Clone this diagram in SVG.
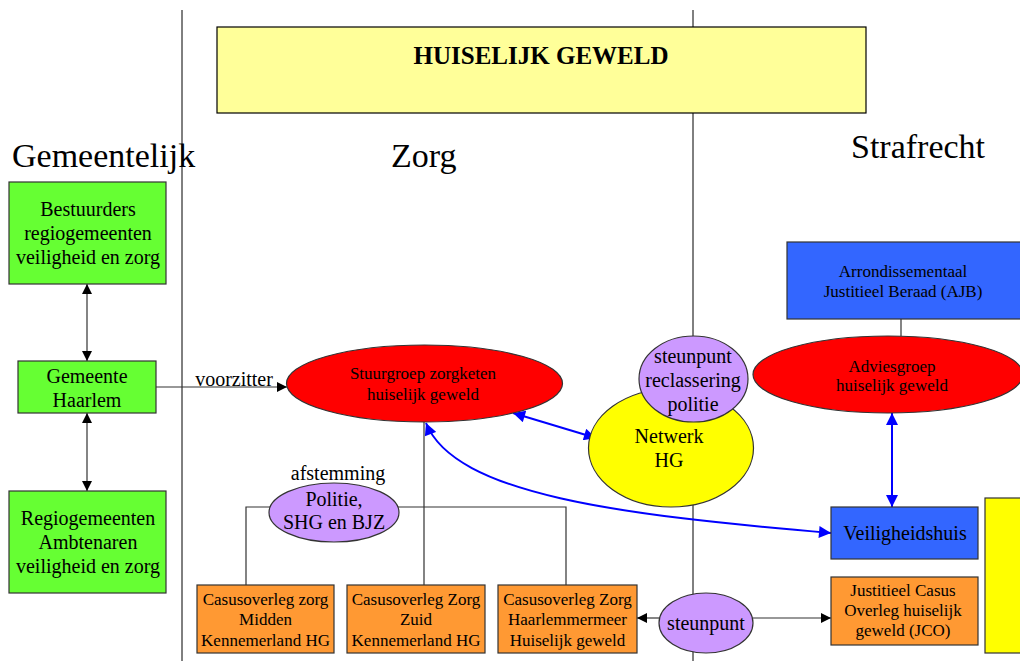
<svg xmlns="http://www.w3.org/2000/svg" width="1020" height="661" viewBox="0 0 1020 661">
<style>
text{font-family:"Liberation Serif","Times New Roman",serif;fill:#000;text-anchor:middle}
.hdr{font-size:34px;text-anchor:start}
.t20{font-size:20px}
.t17{font-size:17px}
.sep{stroke:#000;stroke-width:1;fill:none}
.ln{stroke:#333;stroke-width:1.2;fill:none}
.bl{stroke:#0000ff;stroke-width:2;fill:none}
.box{stroke:#333;stroke-width:1.2}
.green{fill:#66ff33}
.orange{fill:#ff9933}
.purple{fill:#cc99ff}
.blue{fill:#3366ff}
.red{fill:#ff0000}
.yellow{fill:#ffff00}
</style>
<defs>
<marker id="ab" viewBox="0 0 10 10" refX="10" refY="5" markerWidth="11" markerHeight="10" markerUnits="userSpaceOnUse" orient="auto-start-reverse"><path d="M0,0 L10,5 L0,10 z" fill="#000"/></marker>
<marker id="au" viewBox="0 0 10 10" refX="10" refY="5" markerWidth="14" markerHeight="12" markerUnits="userSpaceOnUse" orient="auto-start-reverse"><path d="M0,0 L10,5 L0,10 z" fill="#0000ff"/></marker>
</defs>
<rect width="1020" height="661" fill="#fff"/>
<g id="separators">
<line class="sep" x1="182" y1="10" x2="182" y2="661"/>
<line class="sep" x1="693" y1="10" x2="693" y2="661"/>
</g>
<g id="title">
<rect x="217" y="27" width="649" height="86" fill="#ffff99" stroke="#000" stroke-width="1.2"/>
<text x="541" y="64" style="font-size:25px;font-weight:bold">HUISELIJK GEWELD</text>
</g>
<g id="headers">
<text class="hdr" x="12" y="167">Gemeentelijk</text>
<text class="hdr" x="391" y="167">Zorg</text>
<text class="hdr" x="851" y="158">Strafrecht</text>
</g>
<g id="connectors">
<line class="ln" x1="87" y1="284" x2="87" y2="361" marker-start="url(#ab)" marker-end="url(#ab)"/>
<line class="ln" x1="87" y1="413" x2="87" y2="491" marker-start="url(#ab)" marker-end="url(#ab)"/>
<line class="ln" x1="156" y1="387" x2="287" y2="387" marker-end="url(#ab)"/>
<text class="t20" x="234" y="386">voorzitter</text>
<path class="ln" d="M424,422 V585 M246,585 V507 H566 V585"/>
<line class="ln" x1="901" y1="319" x2="901" y2="336"/>
<line class="bl" x1="513" y1="413" x2="596" y2="438" marker-start="url(#au)" marker-end="url(#au)"/>
<line class="bl" x1="892" y1="413" x2="892" y2="507" marker-start="url(#au)" marker-end="url(#au)"/>
<path class="bl" d="M426,423 C455,495 620,515 831,533" marker-start="url(#au)" marker-end="url(#au)"/>
<line class="ln" x1="659" y1="618" x2="637" y2="618" marker-end="url(#ab)"/>
<line class="ln" x1="753" y1="618" x2="831" y2="618" marker-end="url(#ab)"/>
<text class="t20" x="338" y="480">afstemming</text>
</g>
<g id="bestuurders">
<rect class="box green" x="9" y="182" width="157" height="102"/>
<text class="t20" x="88" y="216">Bestuurders</text>
<text class="t20" x="88" y="240">regiogemeenten</text>
<text class="t20" x="88" y="264">veiligheid en zorg</text>
</g>
<g id="gemeente-haarlem">
<rect class="box green" x="18" y="361" width="138" height="52"/>
<text class="t20" x="87" y="383">Gemeente</text>
<text class="t20" x="87" y="407">Haarlem</text>
</g>
<g id="regiogemeenten">
<rect class="box green" x="9" y="491" width="157" height="102"/>
<text class="t20" x="88" y="525">Regiogemeenten</text>
<text class="t20" x="88" y="549">Ambtenaren</text>
<text class="t20" x="88" y="573">veiligheid en zorg</text>
</g>
<g id="stuurgroep">
<ellipse class="box red" cx="424.5" cy="383.5" rx="138" ry="38.5"/>
<text class="t17" x="423" y="379">Stuurgroep zorgketen</text>
<text class="t17" x="423" y="400">huiselijk geweld</text>
</g>
<g id="politie">
<ellipse class="box purple" cx="334" cy="512.5" rx="65" ry="29.5"/>
<text class="t20" x="334" y="506">Politie,</text>
<text class="t20" x="334" y="529">SHG en BJZ</text>
</g>
<g id="casus-midden">
<rect class="box orange" x="197" y="585" width="137" height="68"/>
<text class="t17" x="265.5" y="605">Casusoverleg zorg</text>
<text class="t17" x="265.5" y="625">Midden</text>
<text class="t17" x="265.5" y="646">Kennemerland HG</text>
</g>
<g id="casus-zuid">
<rect class="box orange" x="347" y="585" width="138" height="68"/>
<text class="t17" x="416" y="605">Casusoverleg Zorg</text>
<text class="t17" x="416" y="625">Zuid</text>
<text class="t17" x="416" y="646">Kennemerland HG</text>
</g>
<g id="casus-haarlemmermeer">
<rect class="box orange" x="498" y="585" width="139" height="68"/>
<text class="t17" x="567.5" y="605">Casusoverleg Zorg</text>
<text class="t17" x="567.5" y="625">Haarlemmermeer</text>
<text class="t17" x="567.5" y="646">Huiselijk geweld</text>
</g>
<g id="netwerk">
<ellipse class="box yellow" cx="671" cy="448" rx="82.5" ry="59"/>
<text class="t20" x="669" y="443">Netwerk</text>
<text class="t20" x="669" y="467">HG</text>
</g>
<g id="steunpunt-reclassering">
<ellipse class="box purple" cx="693.5" cy="379" rx="54.5" ry="43"/>
<text class="t20" x="693" y="363">steunpunt</text>
<text class="t20" x="693" y="387">reclassering</text>
<text class="t20" x="693" y="411">politie</text>
</g>
<g id="ajb">
<rect class="box blue" x="787" y="242" width="240" height="77"/>
<text class="t17" x="903" y="277">Arrondissementaal</text>
<text class="t17" x="903" y="297">Justitieel Beraad (AJB)</text>
</g>
<g id="adviesgroep">
<ellipse class="box red" cx="888" cy="374.5" rx="135" ry="38.5"/>
<text class="t17" x="892" y="372">Adviesgroep</text>
<text class="t17" x="892" y="391">huiselijk geweld</text>
</g>
<g id="veiligheidshuis">
<rect class="box blue" x="831" y="507" width="147" height="52"/>
<text class="t20" x="905" y="540">Veiligheidshuis</text>
</g>
<g id="jco">
<rect class="box orange" x="831" y="577" width="147" height="68"/>
<text class="t17" x="903" y="596">Justitieel Casus</text>
<text class="t17" x="903" y="616">Overleg huiselijk</text>
<text class="t17" x="903" y="636">geweld (JCO)</text>
</g>
<g id="steunpunt">
<ellipse class="box purple" cx="706" cy="623" rx="47" ry="30"/>
<text class="t20" x="706" y="630">steunpunt</text>
</g>
<g id="yellow-block">
<rect class="box yellow" x="985" y="498" width="45" height="155"/>
</g>
</svg>
